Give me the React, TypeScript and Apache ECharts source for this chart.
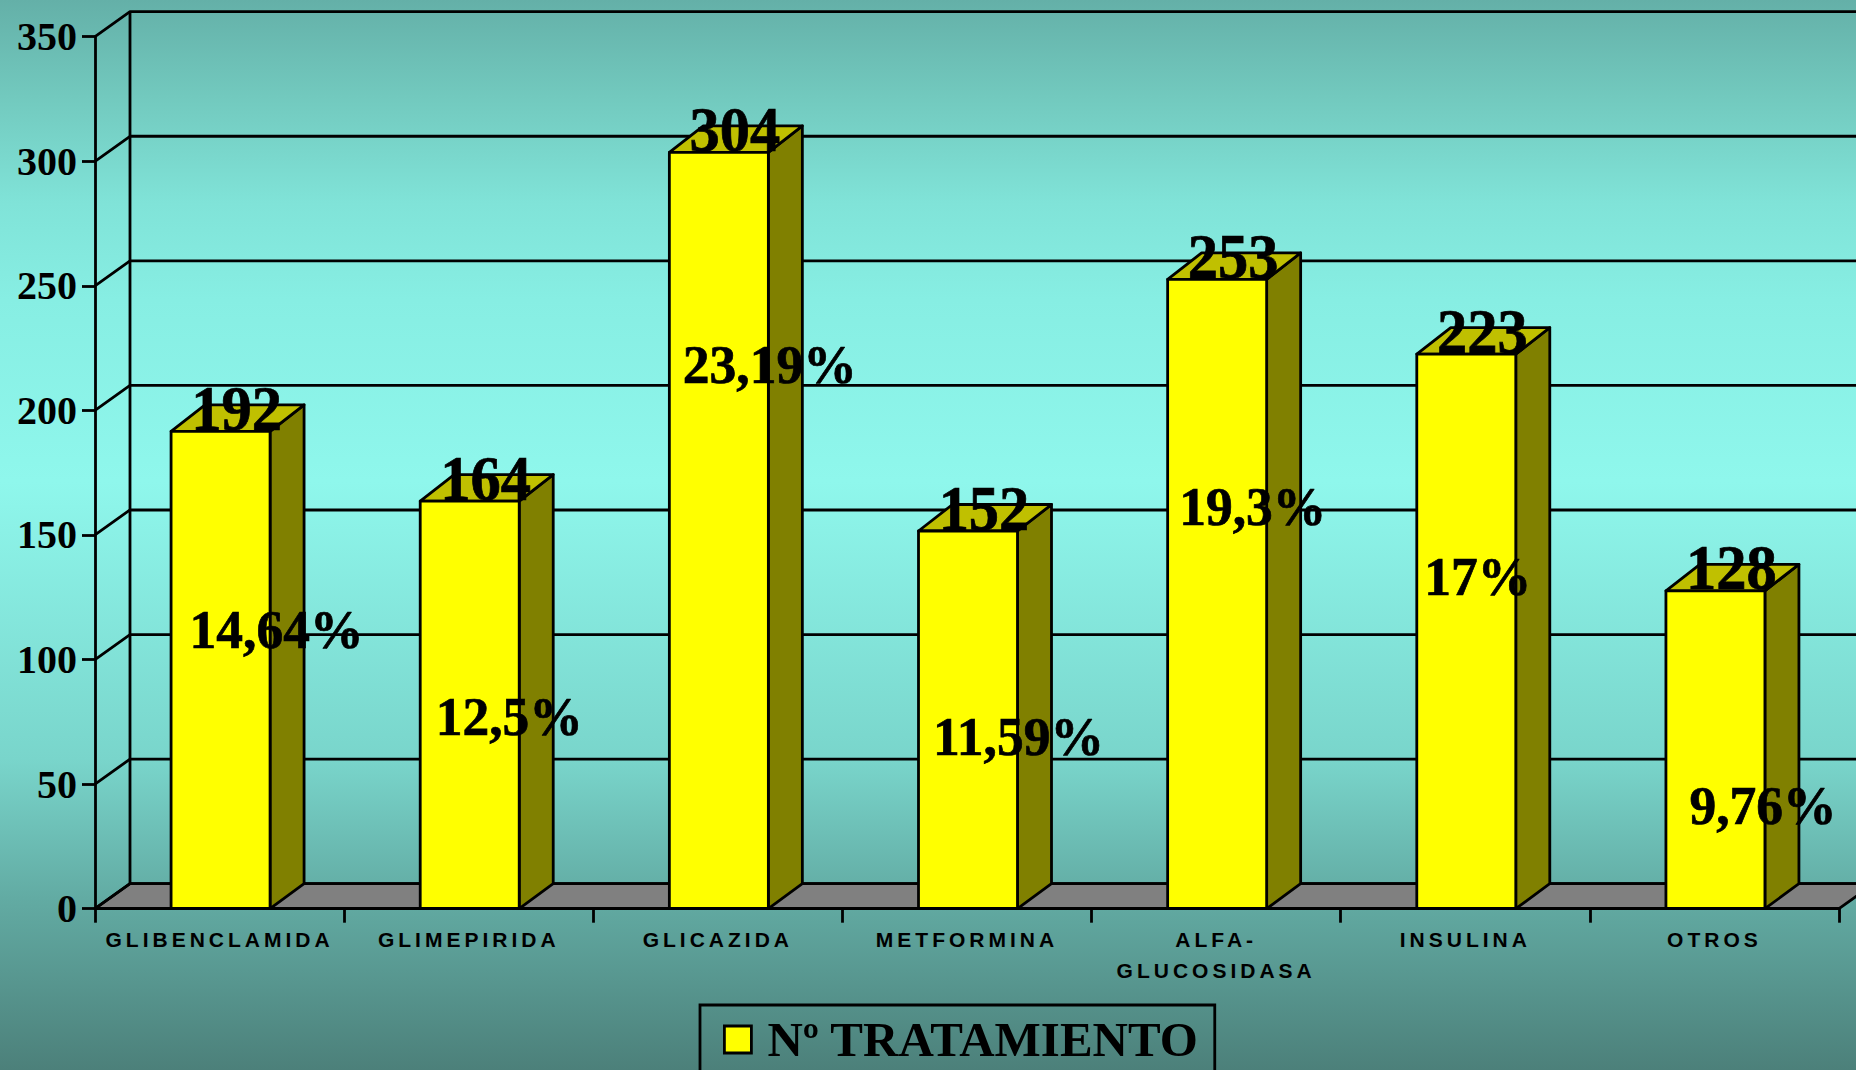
import React, { useEffect, useRef } from "react";
import * as echarts from "echarts";

const categories = ["GLIBENCLAMIDA", "GLIMEPIRIDA", "GLICAZIDA", "METFORMINA", "ALFA-\nGLUCOSIDASA", "INSULINA", "OTROS"];
const treatmentCounts = [192, 164, 304, 152, 253, 223, 128];
const shareLabels = ["14,64%", "12,5%", "23,19%", "11,59%", "19,3%", "17%", "9,76%"];
// Height on the value axis at which each percentage label sits in the reference
const shareLabelLevels = [112, 77, 218, 69, 161, 133, 41];
const yTicks = [0, 50, 100, 150, 200, 250, 300, 350];
const seriesName = "Nº TRATAMIENTO";

const DEPTH_X = 35;
const DEPTH_Y = 25;
const BAR_DEPTH_X = 34;
const BAR_DEPTH_Y = 26.5;
const BAR_WIDTH = 99;
const LINE = 2.8;
const SERIF = '"Liberation Serif", serif';
const CATEGORY_FONT_SIZE = 21;
const shareLabelInset = [19, 16, 14, 15, 12, 8, 24];

const stroke = { stroke: "#000", lineWidth: LINE, lineJoin: "round" as const };

function stretchedText(text: string, x: number, y: number, size: number, scaleY: number, align: string) {
  return {
    type: "text",
    x,
    y,
    scaleY,
    style: {
      text, x: 0, y: 0, fill: "#000", stroke: "#000", lineWidth: 0.7,
      align, verticalAlign: "middle", font: `bold ${size}px ${SERIF}`,
    },
  };
}

export default function App() {
  const ref = useRef<HTMLDivElement>(null);
  useEffect(() => {
    document.body.style.margin = "0";
    const chart = echarts.init(ref.current!, undefined, { renderer: "svg" });
    chart.setOption({
      animation: false,
      backgroundColor: {
        type: "linear", x: 0, y: 0, x2: 0, y2: 1,
        colorStops: [
          { offset: 0, color: "#64B0A8" },
          { offset: 0.09, color: "#72C9BE" },
          { offset: 0.19, color: "#80E3D8" },
          { offset: 0.28, color: "#87EEE3" },
          { offset: 0.45, color: "#8FF7EC" },
          { offset: 0.71, color: "#79D5CB" },
          { offset: 0.84, color: "#62ABA3" },
          { offset: 1, color: "#4C807A" },
        ],
      },
      grid: { left: 95, right: 17, top: 36.7, bottom: 161.3 },
      legend: {
        left: 700,
        top: 1005,
        padding: [10, 16, 10, 23],
        borderColor: "#000",
        borderWidth: LINE,
        itemWidth: 27,
        itemHeight: 27,
        selectedMode: false,
        textStyle: { color: "#000", fontFamily: SERIF, fontWeight: "bold", fontSize: 49, padding: [0, 0, 0, 11] },
        data: [{ name: seriesName, icon: "rect", itemStyle: { color: "#FFFF00", borderColor: "#000", borderWidth: LINE } }],
      },
      xAxis: {
        type: "category",
        data: categories,
        z: 10,
        axisLine: { lineStyle: { color: "#000", width: LINE } },
        axisTick: { show: true, interval: 0, length: 14, lineStyle: { color: "#000", width: LINE } },
        axisLabel: {
          interval: 0,
          margin: 15,
          color: "#000",
          fontFamily: '"Liberation Sans", sans-serif',
          fontWeight: "bold",
          fontSize: CATEGORY_FONT_SIZE,
          lineHeight: 31,
        },
      },
      yAxis: {
        type: "value",
        min: 0,
        max: 350,
        interval: 50,
        z: 10,
        splitLine: { show: false },
        axisLine: { show: true, lineStyle: { color: "#000", width: LINE } },
        axisTick: { show: true, length: 13, lineStyle: { color: "#000", width: LINE } },
        axisLabel: { margin: 18, color: "#000", fontFamily: SERIF, fontWeight: "bold", fontSize: 40 },
      },
      series: [
        {
          type: "custom",
          name: "floor",
          silent: true,
          data: [[0, 0]],
          renderItem: (params: any) => {
            const c = params.coordSys;
            const b = c.y + c.height;
            return {
              type: "group",
              children: [
                {
                  type: "polygon",
                  shape: { points: [[c.x, b], [c.x + DEPTH_X, b - DEPTH_Y], [c.x + c.width + DEPTH_X, b - DEPTH_Y], [c.x + c.width, b]] },
                  style: { fill: "#808080", ...stroke },
                },
                {
                  type: "line",
                  shape: { x1: c.x + DEPTH_X, y1: c.y - DEPTH_Y, x2: c.x + DEPTH_X, y2: b - DEPTH_Y },
                  style: { fill: "none", ...stroke },
                },
              ],
            };
          },
        },
        {
          type: "custom",
          name: "walls",
          silent: true,
          data: yTicks.map((t) => [0, t]),
          renderItem: (params: any, api: any) => {
            const c = params.coordSys;
            const y = api.coord([0, api.value(1)])[1];
            return {
              type: "polyline",
              shape: { points: [[c.x, y], [c.x + DEPTH_X, y - DEPTH_Y], [c.x + c.width + DEPTH_X, y - DEPTH_Y]] },
              style: { fill: "none", ...stroke },
            };
          },
        },
        {
          type: "custom",
          name: seriesName,
          silent: true,
          itemStyle: { color: "#FFFF00" },
          data: treatmentCounts.map((v, i) => [i, v]),
          encode: { x: 0, y: 1 },
          renderItem: (_: any, api: any) => {
            const [cx, valueTop] = api.coord([api.value(0), api.value(1)]);
            const top = valueTop + 1;
            const bottom = api.coord([api.value(0), 0])[1];
            const l = cx + 1 - BAR_WIDTH / 2;
            const r = l + BAR_WIDTH;
            return {
              type: "group",
              children: [
                {
                  type: "polygon",
                  shape: { points: [[r, bottom], [r + BAR_DEPTH_X, bottom - DEPTH_Y], [r + BAR_DEPTH_X, top - BAR_DEPTH_Y], [r, top]] },
                  style: { fill: "#808000", ...stroke },
                },
                {
                  type: "polygon",
                  shape: { points: [[l, top], [l + BAR_DEPTH_X, top - BAR_DEPTH_Y], [r + BAR_DEPTH_X, top - BAR_DEPTH_Y], [r, top]] },
                  style: { fill: "#C0C000", ...stroke },
                },
                {
                  type: "rect",
                  shape: { x: l, y: top, width: BAR_WIDTH, height: bottom - top },
                  style: { fill: "#FFFF00", ...stroke },
                },
              ],
            };
          },
        },
        {
          type: "custom",
          name: "counts",
          silent: true,
          z: 5,
          data: treatmentCounts.map((v, i) => [i, v]),
          renderItem: (_: any, api: any) => {
            const [cx, top] = api.coord([api.value(0), api.value(1)]);
            return stretchedText(String(api.value(1)), cx + 17, top - 22, 60.5, 1.05, "center");
          },
        },
        {
          type: "custom",
          name: "shares",
          silent: true,
          z: 5,
          data: shareLabelLevels.map((v, i) => [i, v]),
          renderItem: (params: any, api: any) => {
            const i = params.dataIndex;
            const [cx, y] = api.coord([api.value(0), api.value(1)]);
            return stretchedText(shareLabels[i], cx + 1 - 50 + shareLabelInset[i], y - 1, 53.5, 1.04, "left");
          },
        },
      ],
    });
    // The reference's category labels are widely tracked
    ref.current!.querySelectorAll("text").forEach((t) => {
      if (parseFloat(getComputedStyle(t).fontSize) === CATEGORY_FONT_SIZE) t.style.letterSpacing = "4px";
    });
    return () => chart.dispose();
  }, []);
  return <div ref={ref} style={{ width: 1856, height: 1070 }} />;
}
